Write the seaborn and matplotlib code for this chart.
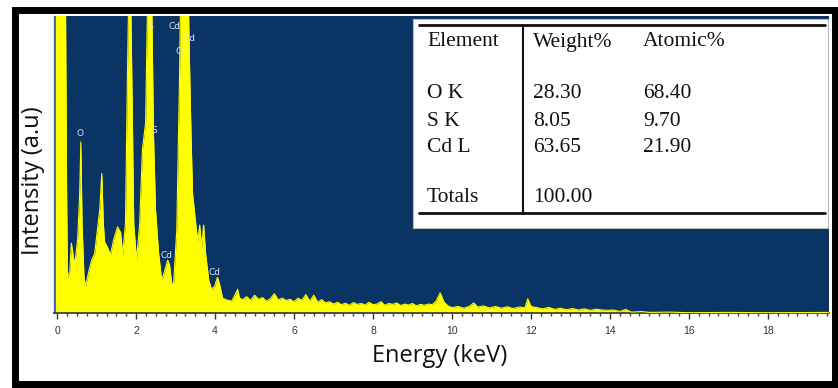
import matplotlib
matplotlib.use("Agg")
import matplotlib.pyplot as plt
from matplotlib.patches import Rectangle
from matplotlib.lines import Line2D
from matplotlib.ticker import MultipleLocator
import seaborn as sns
import pandas as pd

# EDS spectrum: energy (keV) and intensity (arbitrary units, axis clipped at 100)
energy = [
    -0.05, 0.20, 0.24, 0.26, 0.32, 0.36, 0.42, 0.46, 0.52, 0.57, 0.60, 0.63,
    0.68, 0.72, 0.80, 0.88, 0.95, 1.02, 1.08, 1.13, 1.17, 1.20, 1.28, 1.35,
    1.43, 1.53, 1.61, 1.66, 1.73, 1.78, 1.84, 1.89, 1.94, 2.01, 2.09, 2.16,
    2.24, 2.32, 2.37, 2.44, 2.49, 2.57, 2.65, 2.72, 2.80, 2.85, 2.90, 2.95,
    3.03, 3.10, 3.15, 3.30, 3.33, 3.35, 3.39, 3.43, 3.51, 3.56, 3.61, 3.66,
    3.71, 3.76, 3.84, 3.91, 3.99, 4.06, 4.11, 4.19, 4.29, 4.42, 4.52, 4.57,
    4.62, 4.70, 4.80, 4.90, 5.00, 5.10, 5.20, 5.30, 5.40, 5.50, 5.60, 5.70,
    5.80, 5.90, 6.00, 6.10, 6.20, 6.30, 6.40, 6.50, 6.60, 6.70, 6.80, 6.90,
    7.00, 7.10, 7.20, 7.30, 7.40, 7.50, 7.60, 7.70, 7.80, 7.90, 8.00, 8.10,
    8.20, 8.30, 8.40, 8.50, 8.60, 8.70, 8.80, 8.90, 9.00, 9.10, 9.20, 9.30,
    9.40, 9.50, 9.60, 9.70, 9.80, 9.90, 10.00, 10.15, 10.30, 10.45, 10.55,
    10.65, 10.80, 10.95, 11.10, 11.25, 11.40, 11.55, 11.70, 11.85, 11.92,
    12.00, 12.15, 12.30, 12.45, 12.60, 12.75, 12.90, 13.05, 13.20, 13.35,
    13.50, 13.65, 13.80, 13.95, 14.10, 14.25, 14.40, 14.55, 14.80, 15.00,
    15.50, 16.00, 17.00, 18.00, 19.60,
]
intensity = [
    130, 130, 40, 12, 14, 23.5, 18, 17.8, 25, 40, 57.6, 30,
    12, 8.8, 14, 18, 20, 28, 35, 47, 30, 24, 22, 19.5,
    24.6, 29, 27, 19.5, 30, 80, 130, 80, 30, 17.8, 30, 55,
    64, 130, 130, 60, 35, 20, 11, 14, 17.8, 16, 10, 10,
    28, 80, 130, 130, 100, 85.5, 60, 40, 30, 24, 29.6, 22,
    29.6, 20, 11, 8, 9, 12, 10, 5, 4.4, 4, 6.5, 8,
    5, 4.5, 5.5, 4.2, 6.0, 4.6, 5.2, 4.0, 4.8, 6.5, 4.4, 5.0,
    4.2, 4.6, 3.8, 5.0, 4.3, 6.2, 4.0, 6.0, 3.6, 4.5, 3.4, 3.8,
    3.0, 3.6, 2.8, 3.3, 2.6, 3.5, 2.9, 3.2, 2.7, 3.6, 2.8, 3.0,
    3.8, 2.6, 3.2, 2.9, 3.4, 2.5, 3.0, 2.7, 3.2, 2.4, 2.9, 2.6,
    3.0, 2.8, 4.0, 6.8, 3.6, 2.4, 1.8, 2.2, 1.6, 2.3, 3.4,
    2.0, 2.4, 1.7, 2.2, 1.6, 2.1, 1.5, 2.0, 1.8, 4.8,
    2.2, 1.8, 1.4, 1.9, 1.2, 1.6, 1.1, 1.5, 1.0, 1.4,
    0.9, 1.3, 1.0, 0.9, 1.0, 0.5, 1.2, 0.3, 0.5, 0.2,
    0.3, 0.1, 0.2, 0.1, 0.2,
]

# Peak labels (element, energy, height)
peak_labels = ["O", "S", "Cd", "Cd", "Cd", "S", "Cd", "Cd"]
peak_x = [0.57, 2.37, 2.97, 3.35, 3.15, 2.47, 2.77, 3.99]
peak_y = [60.3, 96.3, 96.3, 92.3, 87.9, 61.6, 19.5, 13.8]

# Quantification table
table_header = ["Element", "Weight%", "Atomic%"]
elements = ["O K", "S K", "Cd L"]
weight_pct = ["28.30", "8.05", "63.65"]
atomic_pct = ["68.40", "9.70", "21.90"]
total_weight = "100.00"

x_ticks = [0, 2, 4, 6, 8, 10, 12, 14, 16, 18]

NAVY = "#0a3464"
YELLOW = "#ffff00"

sns.set_theme(style="white")
plt.rcParams["font.family"] = ["Open Sans", "DejaVu Sans"]

W, H = 838, 388
fig = plt.figure(figsize=(W / 100, H / 100), dpi=100)
fig.patch.set_facecolor("white")


def fx(px):
    return px / W


def fy(py):
    return 1 - py / H


ax = fig.add_axes([fx(54), fy(313), fx(829) - fx(54), fy(16) - fy(313)])
ax.set_facecolor(NAVY)

df = pd.DataFrame({"energy": energy, "intensity": intensity})
ax.fill_between(df["energy"], 0, df["intensity"], color=YELLOW, lw=0, zorder=2)
sns.lineplot(data=df, x="energy", y="intensity", ax=ax, color=YELLOW,
             lw=0.8, estimator=None, sort=False, zorder=3)

for lab, px_, py_ in zip(peak_labels, peak_x, peak_y):
    ax.text(px_, py_, lab, color="#e4e4ec", fontsize=6.5, ha="center",
            va="center", zorder=4, family=["DejaVu Sans"])

ax.set_xlim(-0.08, 19.55)
ax.set_ylim(0, 100)
ax.set_yticks([])
ax.set_xticks(x_ticks)
ax.set_xticklabels([str(t) for t in x_ticks], fontsize=7.5, color="#333333",
                   family=["Liberation Sans"])
ax.xaxis.set_minor_locator(MultipleLocator(0.25))
ax.tick_params(axis="x", which="major", direction="out", length=4, width=1,
               color="#333333", pad=5, bottom=True)
ax.tick_params(axis="x", which="minor", direction="out", length=2.5, width=1,
               color="#444444", bottom=True)
for side in ["top", "right"]:
    ax.spines[side].set_visible(False)
ax.spines["bottom"].set_color("#333333")
ax.spines["bottom"].set_linewidth(1.2)
ax.spines["left"].set_color("#4a6fa8")
ax.spines["left"].set_linewidth(1)

ax.set_xlabel("Energy (keV)", fontsize=17, color="#111111")
ax.set_ylabel("Intensity (a.u)", fontsize=17, color="#111111")
ax.xaxis.set_label_coords(0.498, -0.105)
ax.yaxis.set_label_coords(-0.012, 0.444)

# Composition table box
fig.patches.append(Rectangle((fx(413), fy(228)), fx(828) - fx(413),
                             fy(19) - fy(228), transform=fig.transFigure,
                             facecolor="white", edgecolor="#bbbbbb", lw=0.8,
                             zorder=5))
for py_ in (25, 213):
    fig.lines.append(Line2D([fx(419), fx(825)], [fy(py_), fy(py_)],
                            transform=fig.transFigure, color="#111111",
                            lw=2, zorder=6))
fig.lines.append(Line2D([fx(523), fx(523)], [fy(25), fy(213)],
                        transform=fig.transFigure, color="#111111",
                        lw=1.5, zorder=6))

serif = ["Liberation Serif", "DejaVu Serif"]
col_x = [427, 533, 643]
tkw = dict(fontsize=15.5, color="#111111", va="center", ha="left",
           family=serif, zorder=7)
for cx, txt in zip(col_x, table_header):
    fig.text(fx(cx), fy(42), txt, **tkw)
for ry, el, wt, at in zip([94, 121, 147], elements, weight_pct, atomic_pct):
    fig.text(fx(col_x[0]), fy(ry), el, **tkw)
    fig.text(fx(col_x[1]), fy(ry), wt, **tkw)
    fig.text(fx(col_x[2]), fy(ry), at, **tkw)
fig.text(fx(col_x[0]), fy(198), "Totals", **tkw)
fig.text(fx(col_x[1]), fy(198), total_weight, **tkw)

# Outer black frame
fig.patches.append(Rectangle((fx(14.5), fy(383.5)), fx(834.5) - fx(14.5),
                             fy(9.5) - fy(383.5), transform=fig.transFigure,
                             fill=False, edgecolor="black", lw=5.0, zorder=8))

fig.savefig("out.png", dpi=100)
